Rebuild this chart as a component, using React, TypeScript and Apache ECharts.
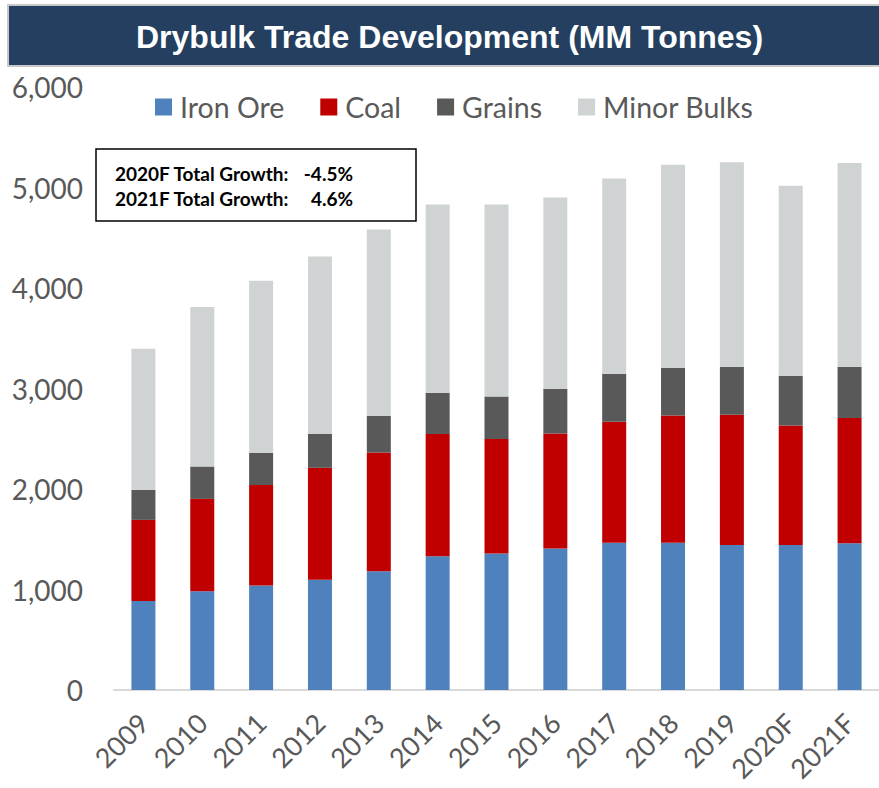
import React, { useEffect, useRef } from "react";
import * as echarts from "echarts";

const categories = ["2009", "2010", "2011", "2012", "2013", "2014", "2015", "2016", "2017", "2018", "2019", "2020F", "2021F"];
const ironOre = [886, 983, 1039, 1096, 1182, 1332, 1358, 1407, 1464, 1464, 1444, 1444, 1461];
const coal = [807, 919, 1000, 1115, 1182, 1215, 1139, 1146, 1205, 1268, 1295, 1189, 1245];
const grains = [299, 322, 319, 339, 362, 411, 424, 445, 478, 475, 478, 495, 511];
const minorBulks = [1404, 1588, 1713, 1763, 1856, 1873, 1910, 1902, 1943, 2019, 2035, 1889, 2028];
const growthLabels = ["2020F Total Growth:", "2021F Total Growth:"];
const growthValues = ["-4.5%", "4.6%"];

const FONT = "Lato";
const GRAY = "#595959";

export default function App() {
  const ref = useRef<HTMLDivElement>(null);
  useEffect(() => {
    if (!ref.current) return;
    const chart = echarts.init(ref.current, null, { renderer: "svg" });
    const mk = (name: string, data: number[], color: string) => ({
      name,
      type: "bar",
      stack: "total",
      data,
      barWidth: 24,
      itemStyle: { color },
      emphasis: { disabled: true },
    });
    chart.setOption({
      animation: false,
      backgroundColor: "#ffffff",
      title: {
        text: "Drybulk Trade Development (MM Tonnes)",
        left: 136,
        top: 19,
        padding: 0,
        textStyle: { color: "#ffffff", fontFamily: "Liberation Sans", fontWeight: "bold", fontSize: 32, lineHeight: 36 },
      },
      legend: {
        left: 155,
        top: 92,
        padding: 0,
        itemWidth: 17,
        itemHeight: 17,
        itemGap: 36,
        icon: "rect",
        textStyle: { color: GRAY, fontFamily: FONT, fontSize: 28.5, lineHeight: 30, padding: [0, 0, 0, 3] },
        data: ["Iron Ore", "Coal", "Grains", "Minor Bulks"],
      },
      grid: { left: 114, right: 0, top: 87, bottom: 98, containLabel: false, outerBoundsMode: "none" },
      xAxis: {
        type: "category",
        data: categories,
        axisLine: { show: true, lineStyle: { color: "#d9d9d9", width: 2 } },
        axisTick: { show: false },
        axisLabel: { rotate: 45, color: GRAY, fontFamily: FONT, fontSize: 27, margin: 28, interval: 0 },
      },
      yAxis: {
        type: "value",
        min: 0,
        max: 6000,
        interval: 1000,
        axisLine: { show: false },
        axisTick: { show: false },
        splitLine: { show: false },
        axisLabel: {
          color: GRAY,
          fontFamily: FONT,
          fontSize: 28,
          margin: 31,
          formatter: (v: number) => v.toLocaleString("en-US"),
        },
      },
      series: [
        mk("Iron Ore", ironOre, "#4F81BD"),
        mk("Coal", coal, "#C00000"),
        mk("Grains", grains, "#595959"),
        mk("Minor Bulks", minorBulks, "#D0D3D4"),
      ],
      graphic: [
        {
          type: "rect",
          z: -1,
          shape: { x: 8, y: 5, width: 880, height: 61 },
          style: { fill: "#243F60", stroke: "#c8c8c8", lineWidth: 2 },
        },
        {
          type: "rect",
          shape: { x: 96, y: 149, width: 320, height: 72 },
          style: { fill: "#ffffff", stroke: "#000000", lineWidth: 1.5 },
        },
        ...growthLabels.map((t, i) => ({
          type: "text",
          x: 115,
          y: 173 + i * 25,
          style: { text: t, fill: "#000000", font: `bold 19px ${FONT}`, textVerticalAlign: "middle", textAlign: "left" },
        })),
        ...growthValues.map((t, i) => ({
          type: "text",
          x: 353,
          y: 173 + i * 25,
          style: { text: t, fill: "#000000", font: `bold 19px ${FONT}`, textVerticalAlign: "middle", textAlign: "right" },
        })),
      ],
    });
    return () => chart.dispose();
  }, []);
  return <div ref={ref} style={{ position: "absolute", left: 0, top: 0, width: 879, height: 788 }} />;
}
